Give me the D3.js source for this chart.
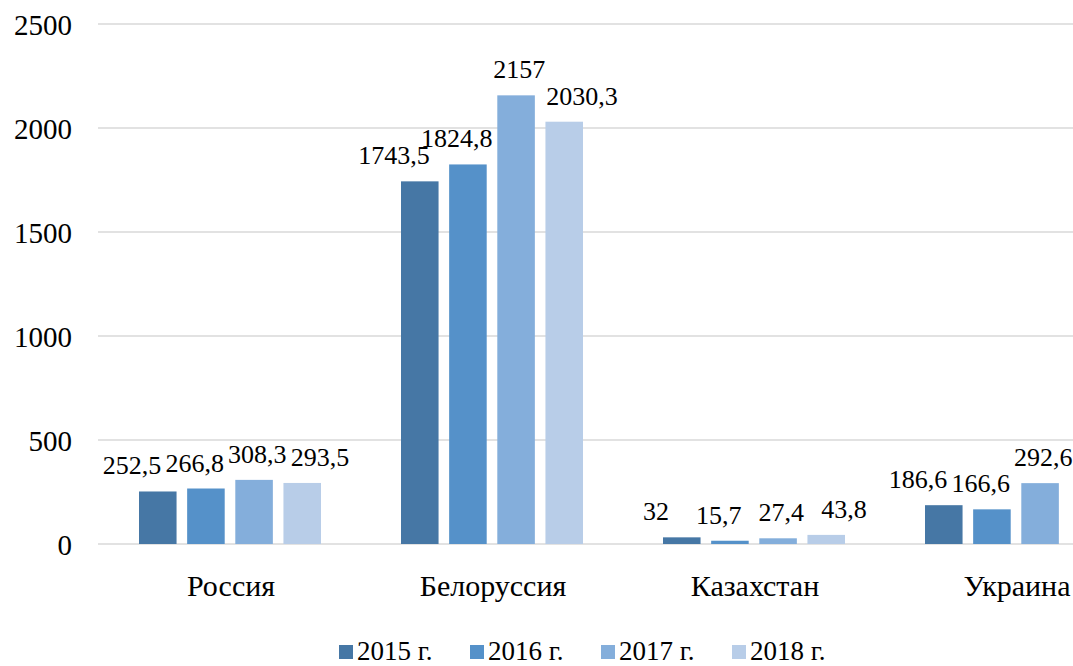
<!DOCTYPE html>
<html><head><meta charset="utf-8">
<script src="https://cdn.jsdelivr.net/npm/d3@7"></script>
</head><body style="margin:0"><svg id="c" width="1073" height="666"></svg>
<script>
const categories = ["Россия","Белоруссия","Казахстан","Украина"];
const seriesNames = ["2015 г.","2016 г.","2017 г.","2018 г."];
const v2015 = [252.5, 1743.5, 32, 186.6];
const v2016 = [266.8, 1824.8, 15.7, 166.6];
const v2017 = [308.3, 2157, 27.4, 292.6];
const v2018 = [293.5, 2030.3, 43.8, null];
const yTicks = [0,500,1000,1500,2000,2500];
const colors = ["#4677a5","#5591c9","#84aedb","#b8cde8"];
const series = [v2015,v2016,v2017,v2018];
const FONT = '"Liberation Serif"';

const svg = d3.select("#c");
const x0 = d3.scaleBand().domain(categories).range([99,1147]).paddingInner(0).paddingOuter(0);
const x1 = d3.scaleBand().domain(d3.range(4)).range([40,222]).paddingInner(0.22);
const y = d3.scaleLinear().domain([0,2500]).range([544,24]);

function txt(g, x, yy, size, anchor, s){
  return g.append("text").attr("x",x).attr("y",yy).attr("text-anchor",anchor)
    .style("font-family",FONT).attr("font-size",size).attr("fill","#000").text(s);
}

svg.append("g").selectAll("line").data(yTicks).join("line")
  .attr("x1",98).attr("x2",1073).attr("y1",d=>y(d)).attr("y2",d=>y(d))
  .attr("stroke","#d9d9d9").attr("stroke-width",1.3);
yTicks.forEach(t=>txt(svg,72,y(t)+11,29,"end",String(t)));

const fmt = v => String(v).replace(".",",");
const spread = 1.3; // data labels spread wider than bars, as in the source chart
categories.forEach((c,ci)=>{
  const gc = x0(c)+x0.bandwidth()/2;
  series.forEach((s,si)=>{
    const v = s[ci];
    if(v==null) return;
    const bx = x0(c)+x1(si);
    const bc = bx+x1.bandwidth()/2;
    svg.append("rect").attr("x",bx).attr("y",y(v)).attr("width",x1.bandwidth()).attr("height",y(0)-y(v)).attr("fill",colors[si]);
    txt(svg,gc+spread*(bc-gc)-4,y(v)-17,26,"middle",fmt(v));
  });
  txt(svg,gc+1,596,30,"middle",c);
});
seriesNames.forEach((n,i)=>{
  const lx = 339 + i*131;
  svg.append("rect").attr("x",lx).attr("y",645).attr("width",14).attr("height",14).attr("fill",colors[i]);
  txt(svg,lx+18,660,27,"start",n);
});
</script></body></html>
